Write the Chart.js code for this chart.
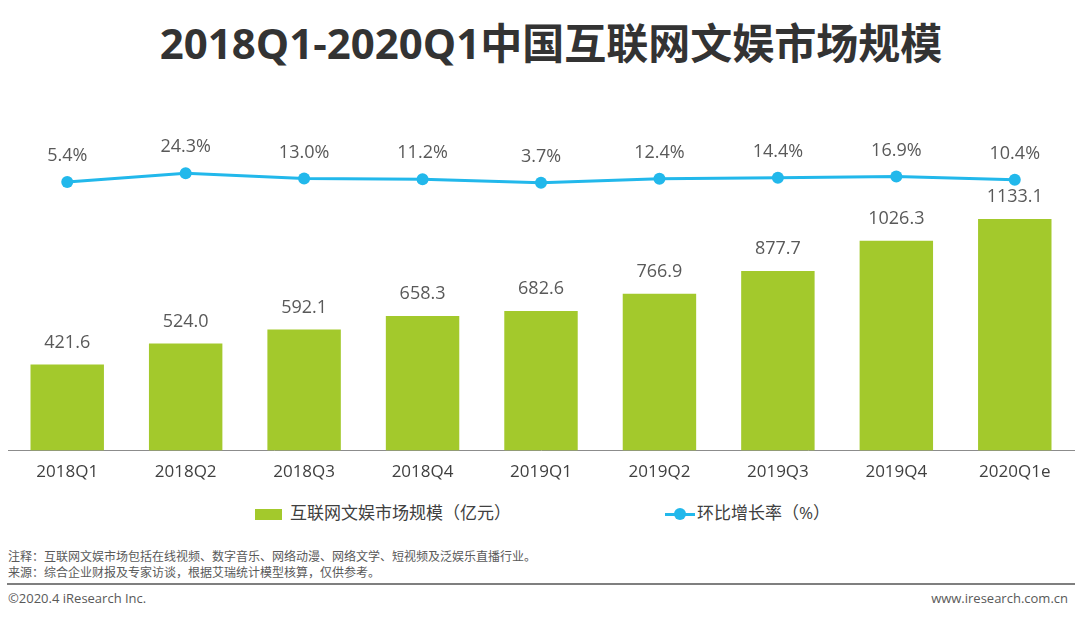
<!DOCTYPE html>
<html>
<head>
<meta charset="utf-8">
<script src="https://cdn.jsdelivr.net/npm/chart.js@4/dist/chart.umd.min.js"></script>
<style>
  body { margin: 0; background: #fff; font-family: "Open Sans", "Noto Sans CJK SC", sans-serif; }
  #lienzo { position: relative; width: 1080px; height: 618px; overflow: hidden; }
  #titulo { position: absolute; top: 10px; left: 11px; width: 1080px; text-align: center;
    font-size: 42px; font-weight: bold; color: #333; }
  #caja { position: absolute; top: 90px; left: 0; width: 1080px; height: 395px; }
  .leyenda { position: absolute; top: 499px; font-size: 17px; color: #404040; }
  .cuadro { display: inline-block; width: 27px; height: 11px; background: #A3C92C; vertical-align: middle; margin-right: 8px; }
  .linea { display: inline-block; position: relative; width: 30px; height: 3px; background: #22B8EB; vertical-align: middle; margin-right: 2px; }
  .linea::after { content: ""; position: absolute; left: 9px; top: -5px; width: 12px; height: 12px; border-radius: 50%; background: #22B8EB; }
  .nota { position: absolute; left: 8px; font-size: 12px; color: #595959; }
  #raya { position: absolute; left: 7px; top: 583px; width: 1068px; height: 2px; background: #7f7f7f; }
  .pie { position: absolute; top: 589px; font-size: 13px; color: #595959; }
</style>
</head>
<body>
<div id="lienzo">
  <div id="titulo">2018Q1-2020Q1中国互联网文娱市场规模</div>
  <div id="caja"><canvas id="grafico"></canvas></div>
  <div class="leyenda" style="left:255px"><span class="cuadro"></span>互联网文娱市场规模（亿元）</div>
  <div class="leyenda" style="left:665px"><span class="linea"></span>环比增长率（%）</div>
  <div class="nota" style="top:547px">注释：互联网文娱市场包括在线视频、数字音乐、网络动漫、网络文学、短视频及泛娱乐直播行业。</div>
  <div class="nota" style="top:563px">来源：综合企业财报及专家访谈，根据艾瑞统计模型核算，仅供参考。</div>
  <div id="raya"></div>
  <div class="pie" style="left:8px">©2020.4 iResearch Inc.</div>
  <div class="pie" style="right:12px">www.iresearch.com.cn</div>
</div>
<script>
//datos del grafico
const categorias = ["2018Q1", "2018Q2", "2018Q3", "2018Q4", "2019Q1", "2019Q2", "2019Q3", "2019Q4", "2020Q1e"];
const escala = [421.6, 524.0, 592.1, 658.3, 682.6, 766.9, 877.7, 1026.3, 1133.1];
const tasa = [5.4, 24.3, 13.0, 11.2, 3.7, 12.4, 14.4, 16.9, 10.4];

const fuente = '"Open Sans", "Noto Sans CJK SC", sans-serif';

//pinta los valores encima de barras y puntos
const etiquetas = {
  id: "etiquetas",
  afterDatasetsDraw(chart) {
    const ctx = chart.ctx;
    ctx.save();
    ctx.font = "18px " + fuente;
    ctx.fillStyle = "#595959";
    ctx.textAlign = "center";
    ctx.textBaseline = "middle";
    chart.data.datasets.forEach((ds, i) => {
      const meta = chart.getDatasetMeta(i);
      meta.data.forEach((el, j) => {
        if (ds.type === "line") {
          ctx.fillText(ds.data[j].toFixed(1) + "%", el.x, el.y - 26);
        } else {
          ctx.fillText(ds.data[j].toFixed(1), el.x, el.y - 22);
        }
      });
    });
    ctx.restore();
  },
};

const grafico = document.getElementById("grafico");
const chart = new Chart(grafico, {
  data: {
    labels: categorias,
    datasets: [
      {
        type: "line",
        label: "环比增长率（%）",
        data: tasa,
        yAxisID: "y1",
        borderColor: "#22B8EB",
        backgroundColor: "#22B8EB",
        borderWidth: 3,
        pointRadius: 6,
        pointBackgroundColor: "#22B8EB",
        pointBorderWidth: 0,
      },
      {
        type: "bar",
        label: "互联网文娱市场规模（亿元）",
        data: escala,
        yAxisID: "y",
        backgroundColor: "#A3C92C",
        categoryPercentage: 1,
        barPercentage: 0.62,
      },
    ],
  },
  options: {
    responsive: true,
    maintainAspectRatio: false,
    animation: false,
    layout: { padding: { left: 8, right: 5, top: 0, bottom: 0 } },
    plugins: { legend: { display: false }, tooltip: { enabled: false } },
    scales: {
      x: {
        grid: { display: false },
        border: { display: true, color: "#8c8c8c", width: 1 },
        ticks: { color: "#404040", font: { size: 17, family: fuente }, padding: 3 },
      },
      y: { display: false, min: 0, max: 1734 },
      y1: { display: false, min: -571.5, max: 190 },
    },
  },
  plugins: [etiquetas],
});
</script>
</body>
</html>
